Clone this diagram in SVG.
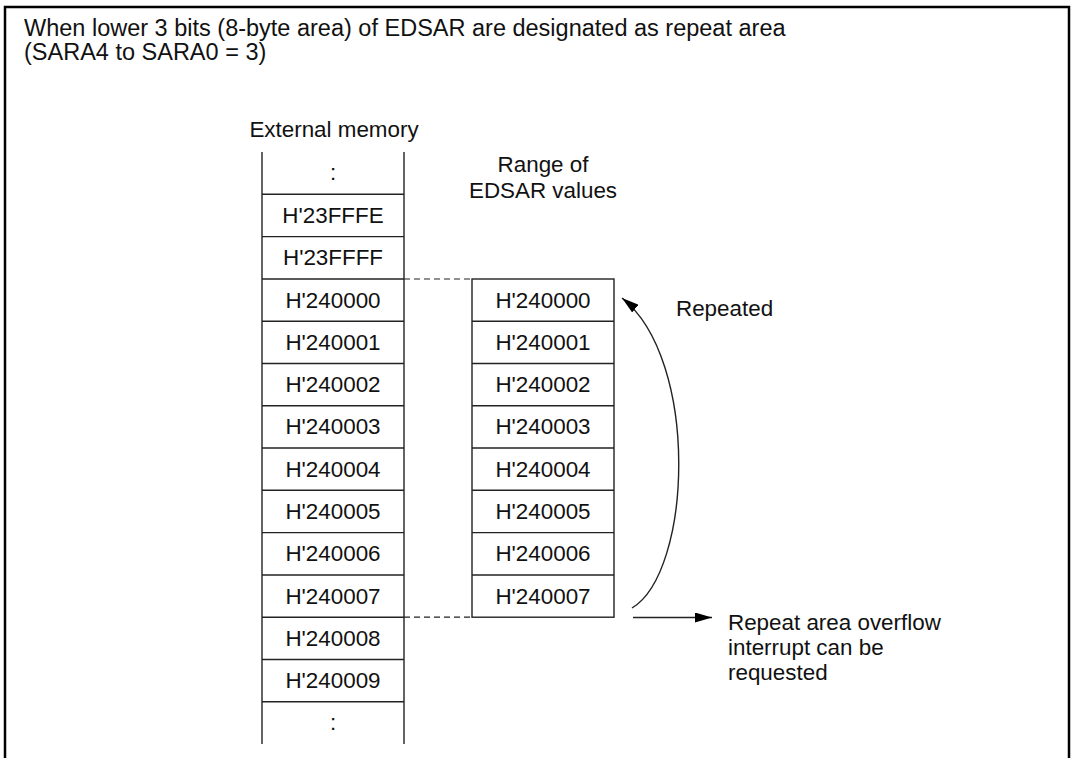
<svg xmlns="http://www.w3.org/2000/svg" width="1075" height="758" viewBox="0 0 1075 758">
<style>
text{font-family:"Liberation Sans",Arial,sans-serif;font-size:22.4px;fill:#111}
.h{font-size:23.5px}
.c{text-anchor:middle}
.box{fill:#fff;stroke:#222;stroke-width:1.4}
.ln{stroke:#222;stroke-width:1.4;fill:none}
.dash{stroke:#222;stroke-width:1.2;stroke-dasharray:6 4;fill:none}
</style>
<defs>
<marker id="ah" viewBox="0 0 17 10" refX="17" refY="5" markerWidth="17" markerHeight="10" markerUnits="userSpaceOnUse" orient="auto">
<path d="M0,0 L17,5 L0,10 Z" fill="#000"/>
</marker>
</defs>
<rect x="5" y="7" width="1064" height="770" fill="#fff" stroke="#000" stroke-width="2.5"/>
<g id="title">
<text class="h" x="24" y="36">When lower 3 bits (8-byte area) of EDSAR are designated as repeat area</text>
<text class="h" x="24" y="60">(SARA4 to SARA0 = 3)</text>
</g>
<g id="memory">
<text class="c" x="334" y="137">External memory</text>
<line class="ln" x1="262" y1="152" x2="262" y2="744"/>
<line class="ln" x1="404" y1="152" x2="404" y2="744"/>
<line class="ln" x1="262" y1="194.3" x2="404" y2="194.3"/>
<line class="ln" x1="262" y1="236.6" x2="404" y2="236.6"/>
<line class="ln" x1="262" y1="279" x2="404" y2="279"/>
<line class="ln" x1="262" y1="321.2" x2="404" y2="321.2"/>
<line class="ln" x1="262" y1="363.5" x2="404" y2="363.5"/>
<line class="ln" x1="262" y1="405.8" x2="404" y2="405.8"/>
<line class="ln" x1="262" y1="448" x2="404" y2="448"/>
<line class="ln" x1="262" y1="490.3" x2="404" y2="490.3"/>
<line class="ln" x1="262" y1="532.6" x2="404" y2="532.6"/>
<line class="ln" x1="262" y1="575" x2="404" y2="575"/>
<line class="ln" x1="262" y1="617.2" x2="404" y2="617.2"/>
<line class="ln" x1="262" y1="659.5" x2="404" y2="659.5"/>
<line class="ln" x1="262" y1="701.8" x2="404" y2="701.8"/>
<text class="c" x="333" y="180">:</text>
<text class="c" x="333" y="223">H'23FFFE</text>
<text class="c" x="333" y="265">H'23FFFF</text>
<text class="c" x="333" y="308">H'240000</text>
<text class="c" x="333" y="350">H'240001</text>
<text class="c" x="333" y="392">H'240002</text>
<text class="c" x="333" y="434">H'240003</text>
<text class="c" x="333" y="477">H'240004</text>
<text class="c" x="333" y="519">H'240005</text>
<text class="c" x="333" y="561">H'240006</text>
<text class="c" x="333" y="604">H'240007</text>
<text class="c" x="333" y="646">H'240008</text>
<text class="c" x="333" y="688">H'240009</text>
<text class="c" x="333" y="730">:</text>
</g>
<g id="edsar">
<text class="c" x="543" y="172">Range of</text>
<text class="c" x="543" y="198">EDSAR values</text>
<rect class="box" x="472" y="279" width="142" height="338.2"/>
<line class="ln" x1="472" y1="321.2" x2="614" y2="321.2"/>
<line class="ln" x1="472" y1="363.5" x2="614" y2="363.5"/>
<line class="ln" x1="472" y1="405.8" x2="614" y2="405.8"/>
<line class="ln" x1="472" y1="448" x2="614" y2="448"/>
<line class="ln" x1="472" y1="490.3" x2="614" y2="490.3"/>
<line class="ln" x1="472" y1="532.6" x2="614" y2="532.6"/>
<line class="ln" x1="472" y1="575" x2="614" y2="575"/>
<text class="c" x="543" y="308">H'240000</text>
<text class="c" x="543" y="350">H'240001</text>
<text class="c" x="543" y="392">H'240002</text>
<text class="c" x="543" y="434">H'240003</text>
<text class="c" x="543" y="477">H'240004</text>
<text class="c" x="543" y="519">H'240005</text>
<text class="c" x="543" y="561">H'240006</text>
<text class="c" x="543" y="604">H'240007</text>
</g>
<g id="labels">
<text x="676" y="316">Repeated</text>
<text x="728" y="630">Repeat area overflow</text>
<text x="728" y="655">interrupt can be</text>
<text x="728" y="680">requested</text>
</g>
<g id="connectors">
<line class="dash" x1="404" y1="279" x2="472" y2="279"/>
<line class="dash" x1="404" y1="617.2" x2="472" y2="617.2"/>
<path class="ln" stroke-width="1.1" d="M632,608 C692,572 700,360 622,298" marker-end="url(#ah)"/>
<line class="ln" x1="633" y1="617.5" x2="712" y2="617.5" marker-end="url(#ah)"/>
</g>
</svg>
